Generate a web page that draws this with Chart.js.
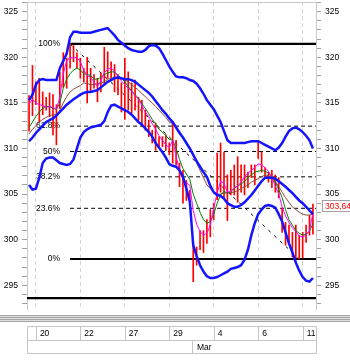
<!DOCTYPE html>
<html><head><meta charset="utf-8">
<script src="https://cdn.jsdelivr.net/npm/chart.js@4.4.1/dist/chart.umd.min.js"></script>
<style>html,body{margin:0;padding:0;background:#fff;}#wrap{width:350px;height:360px;}</style>
</head><body><div id="wrap"><canvas id="c" width="350" height="360"></canvas></div>
<script>
// ---------- DATA ----------
const dayLabels = ['20','22','27','29','4','6','11'];
const dayTickIdx = [2,15,28,41,54,67,80];
const monthLabels = ['Mar'];
const monthIdx = [47.5];

const highs = [315.8,319.1,317.3,317.7,316.2,315.6,316.1,315.9,314.8,318.4,
 320.5,319.9,321.46,321.3,320.5,319.9,318.8,320.0,318.8,318.1,
 317.7,318.3,321.1,320.6,319.5,319.2,318.1,317.2,319.9,318.4,
 317.2,317.5,315.6,315.3,314.2,313.1,312.0,312.8,311.3,311.3,
 311.5,310.6,312.9,310.9,308.4,307.6,306.5,305.4,299.6,299.2,
 301.0,301.0,302.2,303.3,304.0,309.5,310.6,309.6,307.1,307.6,
 308.2,309.1,308.2,308.2,307.4,308.2,308.2,310.9,309.6,307.9,
 307.4,307.6,307.1,306.8,303.5,301.9,301.6,300.8,301.6,300.5,
 300.8,301.6,302.7,303.9];
const lows = [311.9,313.6,314.8,312.9,313.7,314.2,313.5,311.5,310.4,314.4,
 316.7,316.6,318.8,319.5,318.8,317.7,317.3,315.0,316.2,316.6,
 315.1,316.2,317.0,317.7,317.7,316.2,315.9,314.0,313.2,314.2,
 313.9,314.2,313.1,312.4,312.0,311.3,310.6,309.8,310.1,310.2,
 309.8,309.3,308.4,308.2,305.8,304.0,304.3,303.6,295.4,297.2,
 298.9,298.6,299.6,300.3,302.2,304.4,305.2,304.6,302.1,304.9,
 304.9,304.1,305.2,304.9,305.7,306.8,306.0,308.9,307.4,306.8,
 306.3,305.7,305.2,304.6,300.8,299.4,299.7,298.1,298.0,297.88,
 298.0,299.7,300.5,300.6];

const maFast = [314.9,315.4,315.0,314.8,314.7,314.5,314.6,314.5,314.3,315.6,
 318.2,319.6,320.0,319.9,320.0,319.5,318.6,318.0,317.8,317.3,
 316.8,317.4,318.3,318.7,318.8,318.5,317.9,317.4,317.0,316.6,
 316.3,315.8,315.4,314.7,314.0,313.5,312.7,312.1,311.4,310.9,
 310.4,310.1,310.9,309.2,307.5,306.6,306.2,306.0,303.2,301.7,
 300.9,300.5,300.7,301.6,303.5,305.1,306.4,306.2,305.2,305.3,
 305.7,305.9,306.3,306.9,307.3,307.6,307.9,308.3,308.2,307.9,
 307.5,306.8,305.9,305.0,303.6,302.6,301.9,301.3,300.9,300.4,
 300.3,300.5,301.0,302.9];
const maMid = [312.3,312.9,313.5,314.0,314.4,314.6,314.6,314.4,314.3,315.0,
 316.6,317.6,318.2,318.6,318.8,318.6,318.2,318.1,318.0,317.6,
 317.6,317.8,318.1,318.3,318.4,318.4,318.0,317.7,317.3,316.8,
 316.3,315.9,315.5,314.9,314.4,313.8,313.2,312.7,312.1,311.8,
 311.4,311.0,310.9,310.0,308.8,307.8,307.2,306.6,305.0,304.0,
 303.0,302.2,301.8,302.0,302.8,304.0,304.9,305.3,305.1,305.3,
 305.6,305.9,306.1,306.4,306.8,307.1,307.4,307.5,307.6,307.5,
 307.3,306.9,306.3,305.5,304.6,303.3,302.2,301.6,301.0,300.7,
 300.5,300.6,300.9,301.8];
const maSlow = [311.6,312.1,312.5,312.9,313.2,313.4,313.6,313.7,313.7,314.2,
 315.0,315.7,316.2,316.5,316.7,316.9,317.2,317.1,317.0,317.0,
 317.1,317.2,317.3,317.6,317.7,317.8,317.7,317.6,317.5,317.3,
 317.0,316.7,316.4,316.0,315.7,315.3,315.0,314.6,314.2,313.8,
 313.4,312.9,312.7,312.4,311.9,311.3,310.7,310.1,309.2,308.4,
 307.6,306.8,306.0,305.6,305.2,305.0,305.0,305.1,305.1,305.2,
 305.2,305.4,305.6,305.8,306.0,306.3,306.5,306.7,306.9,307.1,
 307.0,306.9,306.4,305.8,305.2,304.6,304.1,303.6,303.3,303.0,
 302.8,302.7,302.7,302.8];
const bandMid = [310.8,311.2,311.7,312.1,312.5,312.9,313.1,313.3,313.6,314.0,
 314.4,314.8,315.1,315.4,315.65,315.9,316.1,316.2,316.2,316.3,
 316.4,316.7,317.0,317.3,317.5,317.7,317.8,317.7,317.6,317.6,
 317.5,317.3,317.0,316.7,316.4,316.1,315.7,315.2,314.7,314.2,
 313.8,313.3,312.9,312.3,311.7,311.2,310.6,310.0,309.3,308.6,
 308.0,307.4,306.9,305.9,305.2,304.9,304.8,304.5,304.0,303.8,
 303.6,303.6,303.8,304.1,304.5,304.9,305.4,305.9,306.4,306.8,
 306.8,306.8,306.7,306.4,306.1,305.8,305.45,305.1,304.7,304.3,
 304.0,303.6,303.2,302.8];
const bandUpper = [315.3,315.9,317.0,317.5,317.6,317.5,317.5,317.5,317.5,318.8,
 319.6,320.4,322.2,322.8,322.8,322.7,322.7,322.7,322.7,322.8,
 322.9,323.0,323.1,323.2,322.8,322.4,321.9,321.6,321.3,321.0,
 320.8,320.7,320.6,320.6,320.8,321.2,321.35,321.3,321.0,320.4,
 319.7,319.0,318.4,317.9,317.8,317.8,317.7,317.5,317.4,317.1,
 316.6,316.0,315.3,314.8,314.3,313.6,312.9,311.9,310.9,310.6,
 310.6,310.6,310.6,310.6,310.7,310.8,310.8,310.8,310.6,310.4,
 310.2,310.0,309.8,310.1,310.6,311.3,311.9,312.2,312.3,312.1,
 311.8,311.4,310.9,310.0];
const bandLower = [306.0,305.5,305.6,306.8,308.4,308.9,309.0,309.0,308.7,308.4,
 308.3,308.2,308.3,308.8,310.0,311.2,311.8,312.1,312.3,312.4,
 312.5,312.6,313.0,314.0,314.7,314.8,314.6,314.4,314.2,314.0,
 313.7,313.3,312.9,312.6,312.2,311.8,311.3,310.6,310.1,309.6,
 309.0,308.3,308.1,308.0,307.6,306.9,305.6,304.2,299.4,298.2,
 297.2,296.5,296.0,295.8,295.8,295.9,296.1,296.3,296.5,296.8,
 296.9,297.0,297.2,297.8,298.9,300.5,301.8,302.8,303.3,303.7,
 303.8,303.7,303.5,302.8,302.0,300.8,299.6,298.6,297.5,296.6,
 295.9,295.5,295.4,295.8];

const fibLevels = [321.46, 312.45, 309.67, 306.89, 303.44, 297.88];
const fibLabels = ['100%','61.8%','50%','38.2%','23.6%','0%'];
const fibSolid  = [true, false, false, false, false, true];
const fibStartIdx = 12;
const trendIdx = [12, 79];
const trendVals = [321.46, 297.88];
const supportLevel = 293.6;
const lastPrice = 303.64;
const lastPriceLabel = '303,64';

// ---------- CHART ----------
const FONT = '"Liberation Sans", Arial, sans-serif';
Chart.defaults.font.family = FONT;
Chart.defaults.font.size = 8.5;
Chart.defaults.color = '#000';

const xMin = -0.6, xMax = 83.9, yMin = 292.4, yMax = 326.06;
const yTickValues = Array.from({length: 34}, (_, k) => 293 + k);
const pts = arr => arr.map((v, i) => ({x: i, y: v}));
const BLUE = '#1414ff';

function lineDs(data, color, width, order, dash) {
  return {type: 'line', data, borderColor: color, borderWidth: width, borderDash: dash || [],
    pointRadius: 0, fill: false, tension: 0, order, xAxisID: 'x', yAxisID: 'y'};
}

const datasets = [];
fibLevels.forEach((v, k) => {
  datasets.push(lineDs([{x: fibStartIdx, y: v}, {x: xMax, y: v}], '#000',
    fibSolid[k] ? 2.2 : 1, 10, fibSolid[k] ? [] : [4, 3]));
});
datasets.push(lineDs([{x: xMin, y: supportLevel}, {x: xMax, y: supportLevel}], '#000', 2.2, 10));
datasets.push(lineDs(trendIdx.map((t, k) => ({x: t, y: trendVals[k]})), '#000', 1, 9, [3, 5]));
datasets.push({type: 'bar', data: highs.map((h, i) => ({x: i, y: [lows[i], h]})),
  backgroundColor: '#ff0000', borderWidth: 0, barThickness: 1, grouped: false, order: 6,
  xAxisID: 'x', yAxisID: 'y'});
datasets.push(lineDs(pts(maSlow), '#8b4a3a', 1, 4));
datasets.push(lineDs(pts(maMid), '#008000', 1, 3));
datasets.push(lineDs(pts(maFast), '#ff00ff', 1, 2));
datasets.push(lineDs(pts(bandMid), BLUE, 2.5, 1));
datasets.push(lineDs(pts(bandUpper), BLUE, 2.5, 1));
datasets.push(lineDs(pts(bandLower), BLUE, 2.5, 1));

const decor = {
  id: 'decor',
  beforeDatasetsDraw(chart) {
    const {ctx, chartArea: a, scales: {x, y}} = chart;
    ctx.save();
    ctx.strokeStyle = '#c8c8c8'; ctx.lineWidth = 1;
    ctx.beginPath(); ctx.moveTo(a.left, a.top + 0.5); ctx.lineTo(a.right, a.top + 0.5); ctx.stroke();
    ctx.font = '8.5px ' + FONT; ctx.fillStyle = '#000';
    ctx.textAlign = 'right'; ctx.textBaseline = 'middle';
    const lx = x.getPixelForValue(fibStartIdx) - 10;
    fibLevels.forEach((v, k) => ctx.fillText(fibLabels[k], lx, y.getPixelForValue(v)));
    ctx.restore();
  },
  afterDraw(chart) {
    const {ctx, chartArea: a, scales: {x, y}} = chart;
    const W = chart.width, b = a.bottom;
    ctx.save();
    // separator band
    ctx.fillStyle = '#dedede'; ctx.fillRect(0, b + 6, W, 6);
    ctx.fillStyle = '#a4a4a4';
    [6, 8, 10, 12].forEach(o => ctx.fillRect(0, b + o, W, 1));
    // date table
    ctx.strokeStyle = '#c4c4c4'; ctx.lineWidth = 1;
    const L = a.left + 0.5, R = a.right + 0.5;
    const t1 = b + 17.5, t2 = b + 31.5, t3 = b + 44.5;
    ctx.beginPath();
    [t1, t2, t3].forEach(t => { ctx.moveTo(L, t); ctx.lineTo(R, t); });
    ctx.moveTo(L, t1); ctx.lineTo(L, t3);
    ctx.moveTo(R, t1); ctx.lineTo(R, t3);
    dayTickIdx.forEach(v => { const p = Math.round(x.getPixelForValue(v)) + 0.5; ctx.moveTo(p, t1); ctx.lineTo(p, t2); });
    monthIdx.forEach(v => { const p = Math.round(x.getPixelForValue(v)) + 0.5; ctx.moveTo(p, t2); ctx.lineTo(p, t3); });
    ctx.stroke();
    ctx.font = '8.5px ' + FONT; ctx.fillStyle = '#000';
    ctx.textAlign = 'left'; ctx.textBaseline = 'middle';
    monthIdx.forEach((v, k) => ctx.fillText(monthLabels[k], Math.round(x.getPixelForValue(v)) + 5, (t2 + t3) / 2 + 1));
    // last price tag
    const py = Math.round(y.getPixelForValue(lastPrice));
    const bx = a.right + 6;
    ctx.fillStyle = '#fff'; ctx.fillRect(bx, py - 5, W - bx, 11);
    ctx.strokeStyle = '#a0a0a0'; ctx.strokeRect(bx + 0.5, py - 5.5, W - bx, 11);
    ctx.fillStyle = '#ff0000'; ctx.fillText(lastPriceLabel, bx + 3, py + 0.5);
    ctx.restore();
  }
};

const yAxis = (pos, w) => ({
  type: 'linear', position: pos, min: yMin, max: yMax,
  afterBuildTicks: s => { s.ticks = yTickValues.map(v => ({value: v})); },
  afterFit: s => { s.width = w; s.paddingTop = 0; s.paddingBottom = 0; },
  ticks: {callback: v => (v % 5 === 0 ? String(v) : ''), padding: 4, autoSkip: false, font: {size: 8.5}},
  grid: {drawOnChartArea: false, tickLength: 5, tickColor: '#a0a0a0'},
  border: {color: '#c8c8c8'}
});

new Chart(document.getElementById('c'), {
  type: 'line',
  data: {datasets},
  options: {
    responsive: false, animation: false, devicePixelRatio: 1,
    layout: {padding: {top: 2, left: 0, right: 0, bottom: 0}},
    plugins: {legend: {display: false}, tooltip: {enabled: false}},
    scales: {
      x: {
        type: 'linear', position: 'bottom', min: xMin, max: xMax, offset: false,
        afterBuildTicks: s => { s.ticks = dayTickIdx.map(v => ({value: v})); },
        afterFit: s => { s.height = 51; s.paddingLeft = 0; s.paddingRight = 0; },
        ticks: {callback: (v, i) => dayLabels[i], align: 'start', labelOffset: 4, padding: 20,
          autoSkip: false, maxRotation: 0, font: {size: 8.5}},
        grid: {color: '#d4d4d4', drawTicks: false, offset: false},
        border: {display: false, dash: [4, 3]}
      },
      y: yAxis('left', 27),
      yr: yAxis('right', 34)
    }
  },
  plugins: [decor]
});
</script></body></html>
